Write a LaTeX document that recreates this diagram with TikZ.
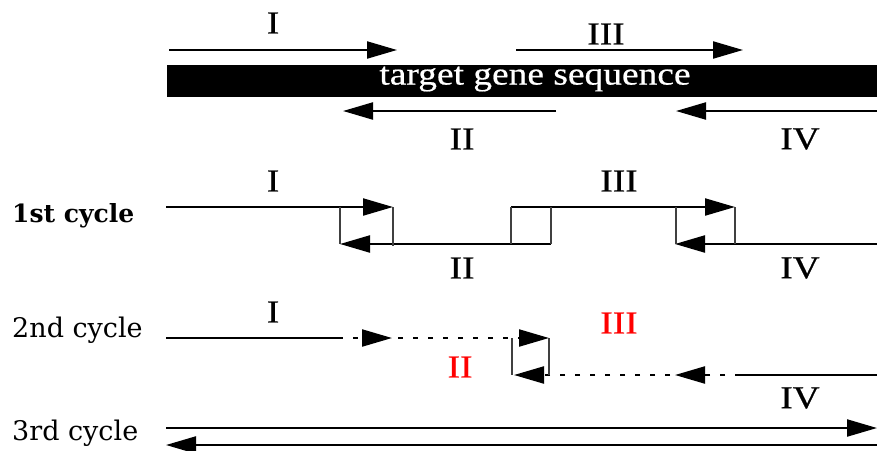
\documentclass[tikz,border=0pt]{standalone}
\usepackage{fontspec}
\setmainfont[FakeStretch=1.17,FakeBold=0.6]{Liberation Serif}
\newfontfamily\cyclefont{DejaVu Serif}
\usetikzlibrary{arrows.meta}
\begin{document}
\begin{tikzpicture}[x=1pt,y=-1pt,
  strand/.style={line width=2.2pt},
  fwd/.style={strand,-{Triangle[length=30pt,width=17pt]}},
  joint/.style={line width=1.2pt,black!75},
  dots/.style={dash pattern=on 5pt off 10pt},
  lbl/.style={font=\fontsize{32}{36}\selectfont,inner sep=0pt},
  cyc/.style={font=\fontsize{27}{32}\cyclefont,anchor=base west,inner sep=0pt}]
\useasboundingbox (0,0) rectangle (877,450);

% ---- primers on the template
\fill[black] (167,65) rectangle (877,97);
\node[lbl,text=white] (seq) at (535,79) {target gene sequence};

\coordinate (tIa) at (169,50);  \coordinate (tIb) at (397,50);
\coordinate (tIIIa) at (516,50); \coordinate (tIIIb) at (743,50);
\coordinate (tIIa) at (556,111); \coordinate (tIIb) at (343,111);
\coordinate (tIVa) at (877,111); \coordinate (tIVb) at (676,111);
\draw[fwd] (tIa) -- (tIb);
\draw[fwd] (tIIIa) -- (tIIIb);
\draw[fwd] (tIIa) -- (tIIb);
\draw[fwd] (tIVa) -- (tIVb);
\node[lbl] (lI0) at (273,23) {I};
\node[lbl] (lIII0) at (606,34) {III};
\node[lbl] (lII0) at (462,139) {II};
\node[lbl] (lIV0) at (800,139) {IV};

% ---- 1st cycle
\node[cyc,font=\fontsize{25}{30}\cyclefont\bfseries] (c1) at (12,222) {1st cycle};
\coordinate (aI1) at (166,207);  \coordinate (bI1) at (393,207);
\coordinate (aII1) at (551,244); \coordinate (bII1) at (340,244);
\coordinate (aIII1) at (511,207); \coordinate (bIII1) at (735,207);
\coordinate (aIV1) at (877,244); \coordinate (bIV1) at (675,244);
\draw[fwd] (aI1) -- (bI1);
\draw[fwd] (aII1) -- (bII1);
\draw[fwd] (aIII1) -- (bIII1);
\draw[fwd] (aIV1) -- (bIV1);
\draw[joint] (340,207) -- (bII1);
\draw[joint] (bI1) -- (393,246);
\draw[joint] (aIII1) -- (511,244);
\draw[joint] (551,207) -- (aII1);
\draw[joint] (676,207) -- (676,244);
\draw[joint] (bIII1) -- (735,244);
\node[lbl] (lI1) at (273,181) {I};
\node[lbl] (lIII1) at (619,181) {III};
\node[lbl] (lII1) at (462,268) {II};
\node[lbl] (lIV1) at (800,268) {IV};

% ---- 2nd cycle
\node[cyc] (c2) at (12,337) {2nd cycle};
\coordinate (aI2) at (166,338); \coordinate (mI2) at (338,338);
\coordinate (bI2) at (392,338); \coordinate (cI2) at (398,338);
\coordinate (dI2) at (549,338);
\coordinate (aIV2) at (877,375); \coordinate (mIV2) at (740,375);
\coordinate (bIV2) at (675,375); \coordinate (cIV2) at (670,375);
\coordinate (dIV2) at (514,375);
\draw[strand] (aI2) -- (mI2);
\draw[fwd,dots] (mI2) -- (bI2);
\draw[fwd,dots] (cI2) -- (dI2);
\draw[strand] (aIV2) -- (mIV2);
\draw[fwd,dots] (mIV2) -- (bIV2);
\draw[fwd,dots] (cIV2) -- (dIV2);
\draw[joint] (512,338) -- (512,375);
\draw[joint] (dI2) -- (549,375);
\node[lbl] (lI2) at (273,312) {I};
\node[lbl,text=red] (lIII2) at (619,323) {III};
\node[lbl,text=red] (lII2) at (460,367) {II};
\node[lbl] (lIV2) at (800,398) {IV};

% ---- 3rd cycle
\node[cyc] (c3) at (12,440) {3rd cycle};
\coordinate (a3) at (166,428); \coordinate (b3) at (877,428);
\coordinate (c3a) at (877,445); \coordinate (c3b) at (166,445);
\draw[fwd] (a3) -- (b3);
\draw[fwd] (c3a) -- (c3b);
\end{tikzpicture}
\end{document}
